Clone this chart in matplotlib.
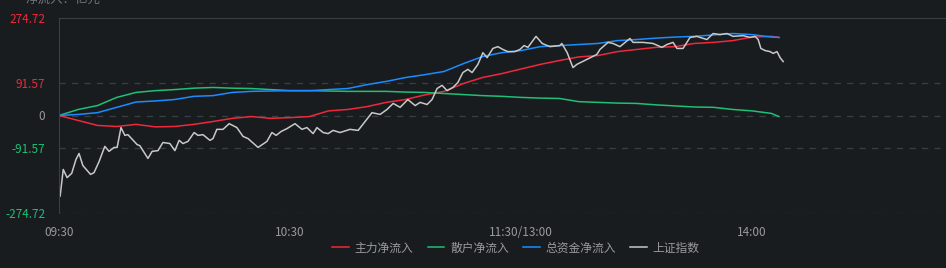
import matplotlib.pyplot as plt

plt.rcParams['font.family'] = ['Noto Sans CJK SC', 'DejaVu Sans']

# minutes after 09:30 (trading minutes, lunch break removed)
minutes = [0, 5, 10, 15, 20, 25, 30, 35, 40, 45, 50, 55, 60, 65, 70, 75, 80, 85, 90,
           95, 100, 105, 110, 115, 120, 125, 130, 135, 140, 145, 150, 155, 160, 165,
           170, 175, 180, 185, 187]
main_flow = [0, -14, -28, -31, -25, -32, -31, -25, -17, -8, -3, -8, -6, -3, 13, 17, 25,
             37, 45, 58, 68, 90, 107, 118, 131, 144, 155, 165, 169, 180, 186, 192, 194,
             203, 206, 211, 221, 223, 220]
retail_flow = [0, 17, 28, 51, 65, 70, 73, 77, 79, 77, 76, 73, 70, 70, 69, 68, 68, 68, 66,
               65, 62, 59, 56, 54, 51, 49, 48, 39, 37, 35, 34, 30, 27, 24, 23, 17, 13, 6, -3]
total_flow = [0, 3, 8, 23, 38, 41, 45, 54, 56, 65, 68, 69, 70, 70, 73, 76, 87, 96, 107,
              115, 124, 146, 166, 177, 183, 194, 197, 200, 203, 211, 214, 218, 221, 223,
              227, 231, 228, 221, 220]

idx_minutes = [0.3, 1.1, 2.1, 3.3, 4.4, 5.2, 6.2, 8.2, 9.1, 10.4,
               11.9, 13.0, 14.3, 15.1, 16.1, 17.1, 17.9, 20.3, 21.0, 23.1,
               24.2, 25.7, 27.0, 28.8, 30.1, 31.2, 32.2, 33.5, 35.1, 36.1,
               37.4, 39.2, 40.0, 41.0, 42.6, 44.2, 46.2, 47.8, 49.1, 51.7,
               54.0, 55.3, 56.4, 57.7, 59.2, 61.3, 63.1, 64.4, 66.0, 67.0,
               68.6, 69.9, 71.2, 73.0, 75.6, 77.7, 79.5, 81.3, 83.4, 85.2,
               86.8, 88.6, 90.6, 92.5, 93.8, 95.6, 96.9, 98.2, 99.5, 100.8,
               102.3, 103.6, 104.9, 106.2, 107.3, 108.8, 110.1, 111.2, 112.7, 114.0,
               115.3, 116.6, 118.4, 119.7, 120.8, 121.8, 123.9, 125.5, 127.5, 130.1,
               130.6, 132.0, 133.5, 134.5, 137.1, 139.7, 140.5, 142.6, 143.9, 145.7,
               148.3, 149.1, 151.7, 154.3, 156.6, 157.9, 159.5, 160.5, 162.1, 163.9,
               165.7, 166.5, 168.3, 169.9, 171.7, 173.5, 175.1, 177.7, 179.5, 180.8,
               181.6, 182.3, 183.4, 184.7, 185.5, 186.5, 187.3, 188.1]
idx_values = [-227, -152, -175, -163, -124, -107, -141, -166, -161, -130,
              -87, -101, -90, -90, -34, -56, -54, -82, -85, -121,
              -101, -99, -76, -79, -99, -70, -79, -73, -48, -56,
              -54, -70, -65, -39, -39, -23, -34, -59, -65, -90,
              -73, -48, -56, -45, -37, -23, -39, -34, -51, -34,
              -48, -51, -42, -48, -39, -42, -17, 8, 3, 17,
              34, 23, 45, 28, 37, 31, 45, 76, 85, 70,
              79, 93, 121, 130, 121, 144, 177, 163, 189, 194,
              186, 180, 180, 186, 197, 192, 223, 203, 194, 197,
              203, 177, 135, 144, 158, 172, 186, 206, 203, 194,
              217, 206, 206, 203, 192, 200, 206, 189, 189, 220,
              223, 220, 214, 231, 228, 231, 223, 225, 220, 223,
              214, 189, 183, 180, 175, 180, 163, 152]

ymax = 274.72
ytick_vals = [274.72, 91.57, 0, -91.57, -274.72]
ytick_labels = ['274.72', '91.57', '0', '-91.57', '-274.72']
xtick_vals = [0, 60, 120, 180]
xtick_labels = ['09:30', '10:30', '11:30/13:00', '14:00']
series_names = ['主力净流入', '散户净流入', '总资金净流入', '上证指数']

bg = '#181c1f'
red = '#f0283c'
green = '#1fbf75'
blue = '#1a8cff'
grey = '#c8c8c8'
txt = '#9a9a9a'
gridc = '#3a3f44'

fig = plt.figure(figsize=(9.46, 2.68), dpi=100, facecolor=bg)
W, H = 946, 268
x0 = 59
px_per_min = 3.85
ax = fig.add_axes([x0 / W, 1 - 213 / H, 240 * px_per_min / W, 195 / H])
ax.set_facecolor(bg)

ax.plot(minutes, main_flow, color=red, lw=1.1, label=series_names[0])
ax.plot(minutes, retail_flow, color=green, lw=1.1, label=series_names[1])
ax.plot(minutes, total_flow, color=blue, lw=1.1, label=series_names[2])
ax.plot(idx_minutes, idx_values, color=grey, lw=1.1, label=series_names[3])

ax.set_xlim(0, 240)
ax.set_ylim(-ymax, ymax)

for v in [91.57, 0, -91.57, -274.72]:
    ax.axhline(v, color=gridc, lw=0.9, ls=(0, (5, 5)), zorder=0)

for s in ['right', 'bottom']:
    ax.spines[s].set_visible(False)
ax.spines['top'].set_color(gridc)
ax.spines['left'].set_color(gridc)

ax.set_yticks(ytick_vals)
ax.set_yticklabels(ytick_labels, fontsize=8.5)
ycols = [red, red, txt, green, green]
for lab, c in zip(ax.get_yticklabels(), ycols):
    lab.set_color(c)
ax.tick_params(axis='y', length=0, pad=10)

ax.set_xticks(xtick_vals)
ax.set_xticklabels(xtick_labels, fontsize=8.5, color=txt)
ax.tick_params(axis='x', length=0, pad=9)

fig.text(100 / W, 1.0, '净流入：亿元', color='#6f7378', fontsize=9, ha='right', va='center')

fig.legend(loc='center', bbox_to_anchor=(516 / W, 1 - 248 / H), ncol=4, frameon=False,
           fontsize=8.5, labelcolor=txt, handlelength=1.4, handletextpad=0.5,
           columnspacing=1.2)

fig.savefig('out.png', dpi=100, facecolor=bg)
